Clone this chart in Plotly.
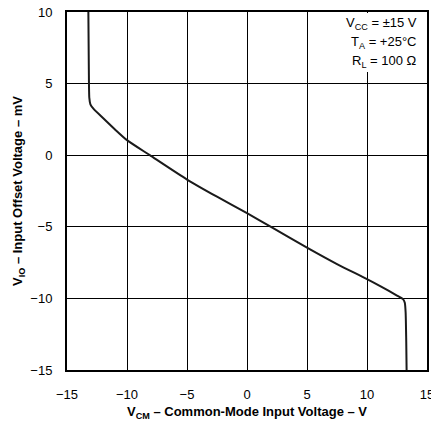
import plotly.graph_objects as go

vcm = [-13.22, -13.18, -13.14, -13.05, -12.8, -12.0, -11.0, -10.0, -8.1, -5.0, -2.5, 0.0, 2.0, 5.0, 7.5, 10.0, 11.1, 12.5, 13.0, 13.15, 13.22, 13.27, 13.3]
vio = [10.0, 6.0, 4.0, 3.55, 3.25, 2.6, 1.8, 1.05, 0.0, -1.7, -2.9, -4.05, -5.0, -6.45, -7.6, -8.65, -9.14, -9.8, -10.05, -10.3, -11.0, -13.0, -15.0]

x_ticks = [-15, -10, -5, 0, 5, 10, 15]
y_ticks = [-15, -10, -5, 0, 5, 10]
x_labels = ["\u221215", "\u221210", "\u22125", "0", "5", "10", "15"]
y_labels = ["\u221215", "\u221210", "\u22125", "0", "5", "10"]
cond_lines = ["V<sub>CC</sub> = \u00b115 V", "T<sub>A</sub> = +25\u00b0C", "R<sub>L</sub> = 100 \u03a9"]

font = "Liberation Sans, Arial, sans-serif"
W, H = 431, 429
ML, MR, MT, MB = 67, 4, 12, 59
PW = W - ML - MR
PH = H - MT - MB

fig = go.Figure()
fig.add_trace(go.Scatter(x=vcm, y=vio, mode="lines",
                         line=dict(color="#1a1a1a", width=2, shape="spline", smoothing=0.6),
                         hoverinfo="skip", showlegend=False))

fig.update_layout(
    width=W, height=H,
    margin=dict(l=ML, r=MR, t=MT, b=MB, autoexpand=False),
    paper_bgcolor="white", plot_bgcolor="white",
    font=dict(family=font, size=13, color="black"),
    showlegend=False,
)
fig.update_xaxes(
    range=[-15, 15], tickvals=x_ticks, ticktext=x_labels,
    showgrid=True, gridcolor="black", gridwidth=1, zeroline=False,
    showline=True, linecolor="black", linewidth=2, mirror=True,
    ticks="", ticklabelstandoff=11, automargin=False, ticklabeloverflow="allow",
    tickfont=dict(size=13, family=font),
)
fig.update_yaxes(
    range=[-15, 10], tickvals=y_ticks, ticktext=y_labels,
    showgrid=True, gridcolor="black", gridwidth=1, zeroline=False,
    showline=True, linecolor="black", linewidth=2, mirror=True,
    ticks="", ticklabelstandoff=10, automargin=False, ticklabeloverflow="allow",
    tickfont=dict(size=13, family=font),
)

# axis titles
fig.add_annotation(x=0.5, y=0, xref="paper", yref="paper", xanchor="center", yanchor="middle",
                   yshift=-42, showarrow=False,
                   text="<b>V<sub>CM</sub> \u2013 Common-Mode Input Voltage \u2013 V</b>",
                   font=dict(size=13, family=font, color="black"))
fig.add_annotation(x=0, y=0.5, xref="paper", yref="paper", xanchor="center", yanchor="middle",
                   xshift=-49, textangle=-90, showarrow=False,
                   text="<b>V<sub>IO</sub> \u2013 Input Offset Voltage \u2013 mV</b>",
                   font=dict(size=13, family=font, color="black"))

# conditions box
fig.add_shape(type="rect", xref="paper", yref="paper",
              x0=(344 - ML) / PW, x1=0.997, y0=1 - (72 - MT) / PH, y1=0.997,
              fillcolor="white", line=dict(width=0), layer="above")
for i, t in enumerate(cond_lines):
    fig.add_annotation(x=1, y=1 - (24 + 18.5 * i - MT) / PH, xref="paper", yref="paper",
                       xanchor="right", yanchor="middle", xshift=-8, showarrow=False,
                       text=t, align="right", font=dict(size=13, family=font, color="black"))

fig.write_html(
    "out.html",
    config={"displayModeBar": False, "staticPlot": True},
    post_script="document.body.style.margin='0';document.body.style.overflow='hidden';"
                "document.querySelectorAll('.main-svg').forEach(function(s){s.style.overflow='visible';});",
)
